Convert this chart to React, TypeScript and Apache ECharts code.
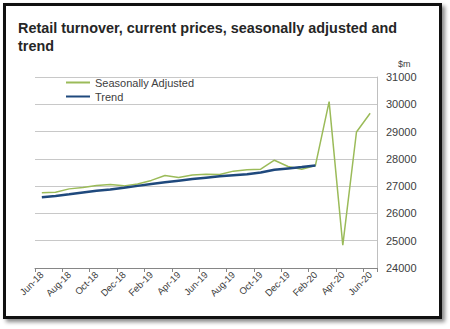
import React, { useEffect, useRef } from "react";
import * as echarts from "echarts";

const months = [
  "Jun-18", "Jul-18", "Aug-18", "Sep-18", "Oct-18", "Nov-18", "Dec-18",
  "Jan-19", "Feb-19", "Mar-19", "Apr-19", "May-19", "Jun-19", "Jul-19",
  "Aug-19", "Sep-19", "Oct-19", "Nov-19", "Dec-19", "Jan-20", "Feb-20",
  "Mar-20", "Apr-20", "May-20", "Jun-20",
];

const seasonallyAdjusted = [
  26755, 26780, 26900, 26950, 27020, 27060, 27010, 27080, 27210, 27390,
  27320, 27410, 27440, 27430, 27550, 27600, 27620, 27950, 27720, 27620,
  27760, 30095, 24840, 28985, 29670,
];

const trend = [
  26590, 26640, 26700, 26770, 26830, 26880, 26940, 27010, 27080, 27140,
  27200, 27260, 27310, 27360, 27400, 27440, 27500, 27600, 27650, 27700,
  27760, null, null, null, null,
];

const yTicks = { min: 24000, max: 31000, interval: 1000 };

export default function App() {
  const ref = useRef<HTMLDivElement>(null);
  useEffect(() => {
    if (!ref.current) return;
    const chart = echarts.init(ref.current, null, { renderer: "svg" });
    chart.setOption({
      animation: false,
      textStyle: { fontFamily: "Liberation Sans, Arial, sans-serif" },
      title: {
        text: "Retail turnover, current prices, seasonally adjusted and\ntrend",
        left: 13,
        top: 14,
        textStyle: {
          fontSize: 14.4,
          fontWeight: "bold",
          color: "#262626",
          lineHeight: 18,
          fontFamily: "Liberation Sans, Arial, sans-serif",
        },
      },
      legend: {
        orient: "vertical",
        left: 66,
        top: 77,
        itemWidth: 24,
        itemHeight: 2,
        itemGap: 3,
        padding: [0, 0, 0, 0],
        textStyle: { fontSize: 11, color: "#404040" },
        data: [
          { name: "Seasonally Adjusted", icon: "rect" },
          { name: "Trend", icon: "rect" },
        ],
      },
      grid: { left: 35, right: 73, top: 77, bottom: 61 },
      xAxis: {
        type: "category",
        data: months,
        boundaryGap: true,
        axisLine: { show: true, lineStyle: { color: "#868686", width: 1 } },
        axisTick: { show: true, interval: 1, length: 4, lineStyle: { color: "#868686" } },
        axisLabel: {
          interval: 1,
          rotate: 45,
          fontSize: 9.5,
          color: "#404040",
          margin: 5,
        },
        splitLine: { show: false },
      },
      yAxis: {
        type: "value",
        position: "right",
        min: yTicks.min,
        max: yTicks.max,
        interval: yTicks.interval,
        axisLine: { show: true, lineStyle: { color: "#BFBFBF", width: 1 } },
        axisTick: { show: false },
        axisLabel: {
          fontSize: 11,
          color: "#404040",
          margin: 9,
          formatter: (v: number) => String(v),
        },
        splitLine: { show: true, lineStyle: { color: "#C8C8C8", width: 1 } },
      },
      graphic: [
        {
          type: "text",
          left: 398,
          top: 59,
          style: { text: "$m", fontSize: 9, fill: "#404040", fontFamily: "Liberation Sans, Arial, sans-serif" },
        },
      ],
      series: [
        {
          name: "Seasonally Adjusted",
          type: "line",
          data: seasonallyAdjusted,
          symbol: "none",
          lineStyle: { color: "#9BBB59", width: 1.5 },
          itemStyle: { color: "#9BBB59" },
        },
        {
          name: "Trend",
          type: "line",
          data: trend,
          symbol: "none",
          connectNulls: false,
          lineStyle: { color: "#1F497D", width: 2.5 },
          itemStyle: { color: "#1F497D" },
        },
      ],
    });
    return () => chart.dispose();
  }, []);

  return (
    <div style={{ position: "fixed", left: 0, top: 0, width: 450, height: 329, background: "#fff" }}>
      <div
        style={{
          position: "absolute",
          left: 3,
          top: 3,
          width: 439,
          height: 316,
          boxSizing: "border-box",
          border: "3px solid #111",
          boxShadow: "3px 3px 4px #888",
        }}
      />
      <div ref={ref} style={{ position: "absolute", left: 0, top: 0, width: 450, height: 329 }} />
    </div>
  );
}
